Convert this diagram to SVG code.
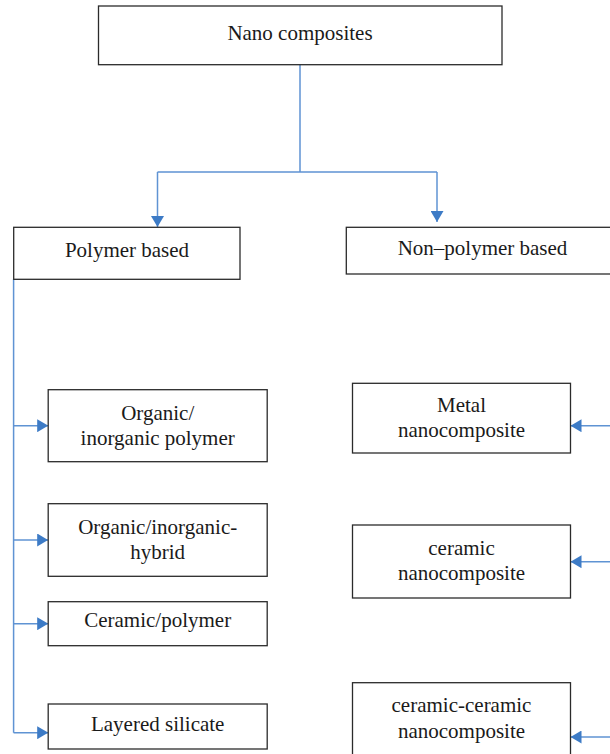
<svg xmlns="http://www.w3.org/2000/svg" width="610" height="754" viewBox="0 0 610 754">
<defs>
<style>
.box{fill:#fff;stroke:#2b2b2b;stroke-width:1.3}
.c{fill:none;stroke:#5f93d3;stroke-width:1.5}
</style>
<marker id="ah" markerUnits="userSpaceOnUse" markerWidth="11" markerHeight="13" refX="11" refY="6.5" orient="auto">
<path d="M0,0 L11,6.5 L0,13 z" fill="#3d7bc6"/>
</marker>
</defs>
<rect width="610" height="754" fill="#fff"/>
<g id="connectors">
<path class="c" d="M300,65 V172 M157.5,172 H437"/>
<path class="c" d="M157.5,172 V227" marker-end="url(#ah)"/>
<path class="c" d="M437,172 V222" marker-end="url(#ah)"/>
<path class="c" d="M13.6,279 V732.7"/>
<path class="c" d="M13.6,425.7 H48.2" marker-end="url(#ah)"/>
<path class="c" d="M13.6,540 H48.2" marker-end="url(#ah)"/>
<path class="c" d="M13.6,623.7 H48.2" marker-end="url(#ah)"/>
<path class="c" d="M13.6,732.7 H48.2" marker-end="url(#ah)"/>
<path class="c" d="M611,425.7 H570.5" marker-end="url(#ah)"/>
<path class="c" d="M611,561.7 H570.5" marker-end="url(#ah)"/>
<path class="c" d="M611,737 H570.5" marker-end="url(#ah)"/>
</g>
<g font-family="Liberation Serif, Times New Roman, DejaVu Serif, serif" font-size="21" fill="#1a1a1a" text-anchor="middle">
<g id="nano">
<rect class="box" x="98.5" y="6" width="403.5" height="58.7"/>
<text x="300" y="39.5">Nano composites</text>
</g>
<g id="polymer">
<rect class="box" x="13.7" y="227.3" width="226.3" height="52"/>
<text x="127" y="256.5">Polymer based</text>
</g>
<g id="nonpolymer">
<rect class="box" x="346.3" y="227.3" width="270" height="46.7"/>
<text x="482.5" y="255">Non–polymer based</text>
</g>
<g id="organic-polymer">
<rect class="box" x="48.2" y="389.7" width="219" height="72"/>
<text x="157.7" y="420">Organic/</text>
<text x="157.7" y="445">inorganic polymer</text>
</g>
<g id="organic-hybrid">
<rect class="box" x="48.2" y="503.7" width="219" height="72.6"/>
<text x="157.7" y="534.3">Organic/inorganic-</text>
<text x="157.7" y="559.3">hybrid</text>
</g>
<g id="ceramic-polymer">
<rect class="box" x="48.2" y="601.7" width="219" height="44"/>
<text x="157.7" y="626.7">Ceramic/polymer</text>
</g>
<g id="layered">
<rect class="box" x="48.2" y="704" width="219" height="45"/>
<text x="157.7" y="731">Layered silicate</text>
</g>
<g id="metal">
<rect class="box" x="352.5" y="383.3" width="218" height="69.7"/>
<text x="461.5" y="411.7">Metal</text>
<text x="461.5" y="436.7">nanocomposite</text>
</g>
<g id="ceramic">
<rect class="box" x="352.5" y="525" width="218" height="73"/>
<text x="461.5" y="555">ceramic</text>
<text x="461.5" y="580">nanocomposite</text>
</g>
<g id="ceramic-ceramic">
<rect class="box" x="352.5" y="682.7" width="218" height="80"/>
<text x="461.5" y="712.3">ceramic-ceramic</text>
<text x="461.5" y="738.3">nanocomposite</text>
</g>
</g>
</svg>
